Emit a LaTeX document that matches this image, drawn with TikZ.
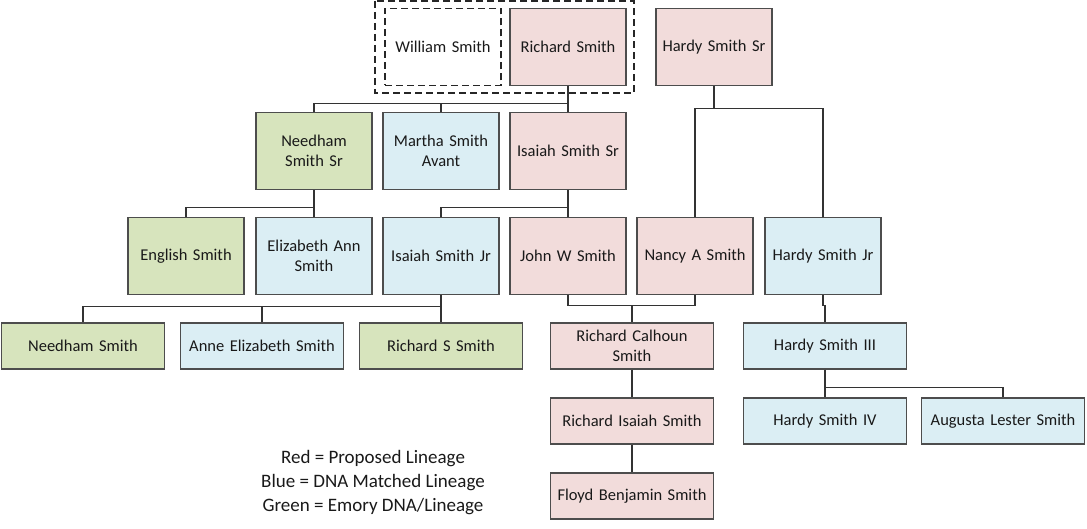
\documentclass[tikz,border=0pt]{standalone}
\usepackage{fontspec}
\setmainfont{Carlito}
\usepackage{tikz}
\usetikzlibrary{calc}
\usepackage{xcolor}
\definecolor{propred}{HTML}{F2DCDB}
\definecolor{dnablue}{HTML}{DBEEF4}
\definecolor{emgreen}{HTML}{D7E4BD}
\definecolor{edgegray}{HTML}{4D4D4D}
\tikzset{
  person/.style={draw=edgegray, line width=1.2pt, align=center, inner sep=2pt,
    font=\fontsize{16.5}{20}\selectfont, text=black!90},
  tall/.style={person, minimum width=116pt, minimum height=77pt, text width=108pt},
  wide/.style={person, minimum width=163pt, minimum height=46pt, text width=155pt},
  red/.style={fill=propred},
  blue/.style={fill=dnablue},
  green/.style={fill=emgreen},
  link/.style={draw=black!80, line width=1.1pt},
  wrap/.style={draw=black!85, line width=1.2pt, dash pattern=on 7pt off 4pt}
}
\begin{document}
\begin{tikzpicture}[x=1pt,y=-1pt]
\useasboundingbox (0,0) rectangle (1087,529);
% top row
\node [tall, wrap, fill=white] (william) at (443,47) {William Smith};
\node [tall, red] (richard) at (568,47) {Richard Smith};
\node [tall, red] (hardysr) at (714,47) {Hardy Smith Sr};
\draw [wrap] (375,1) rectangle (634,93);
% second row
\node [tall, green] (needsr) at (314,151) {Needham\\Smith Sr};
\node [tall, blue] (martha) at (441,151) {Martha Smith\\Avant};
\node [tall, red] (isaiahsr) at (568,151) {Isaiah Smith Sr};
% third row
\node [tall, green] (english) at (186,256) {English Smith};
\node [tall, blue] (eliz) at (314,256) {Elizabeth Ann\\Smith};
\node [tall, blue] (isaiahjr) at (441,256) {Isaiah Smith Jr};
\node [tall, red] (johnw) at (568,256) {John W Smith};
\node [tall, red] (nancy) at (695,256) {Nancy A Smith};
\node [tall, blue] (hardyjr) at (823,256) {Hardy Smith Jr};
% fourth row
\node [wide, green] (needham) at (83,346) {Needham Smith};
\node [wide, blue] (anne) at (262,346) {Anne Elizabeth Smith};
\node [wide, green] (richs) at (441,346) {Richard S Smith};
\node [wide, red] (calhoun) at (632,346) {Richard Calhoun\\Smith};
\node [wide, blue] (hardy3) at (825,346) {Hardy Smith III};
% fifth row
\node [wide, red] (richisa) at (632,421) {Richard Isaiah Smith};
\node [wide, blue] (hardy4) at (825,421) {Hardy Smith IV};
\node [wide, blue] (augusta) at (1003,421) {Augusta Lester Smith};
\node [wide, red] (floyd) at (632,496) {Floyd Benjamin Smith};
% links
\draw [link] (richard.south) -- ++(0,17) -| (needsr.north);
\draw [link] (richard.south) -- ++(0,17) -| (martha.north);
\draw [link] (richard.south) -- (isaiahsr.north);
\draw [link] (hardysr.south) -- ++(0,22) -| (nancy.north);
\draw [link] (hardysr.south) -- ++(0,22) -| (hardyjr.north);
\draw [link] (needsr.south) -- ++(0,17) -| (english.north);
\draw [link] (needsr.south) -- (eliz.north);
\draw [link] (isaiahsr.south) -- ++(0,17) -| (isaiahjr.north);
\draw [link] (isaiahsr.south) -- (johnw.north);
\draw [link] (isaiahjr.south) -- ++(0,11) -| (needham.north);
\draw [link] (isaiahjr.south) -- ++(0,11) -| (anne.north);
\draw [link] (isaiahjr.south) -- (richs.north);
\draw [link] (johnw.south) -- ++(0,10) -| (nancy.south);
\draw [link] (johnw.south) ++(64,10) coordinate (mid) -- (calhoun.north);
\draw [link] (hardyjr.south) -- ++(0,10) -| (hardy3.north);
\draw [link] (hardy3.south) -- ++(0,18) -| (augusta.north);
\draw [link] (hardy3.south) -- (hardy4.north);
\draw [link] (calhoun.south) -- (richisa.north);
\draw [link] (richisa.south) -- (floyd.north);
% legend
\node [align=center, font=\fontsize{19}{24}\selectfont, text=black!90] (legend) at (373,483)
  {Red = Proposed Lineage\\Blue = DNA Matched Lineage\\Green = Emory DNA/Lineage};
\end{tikzpicture}
\end{document}
